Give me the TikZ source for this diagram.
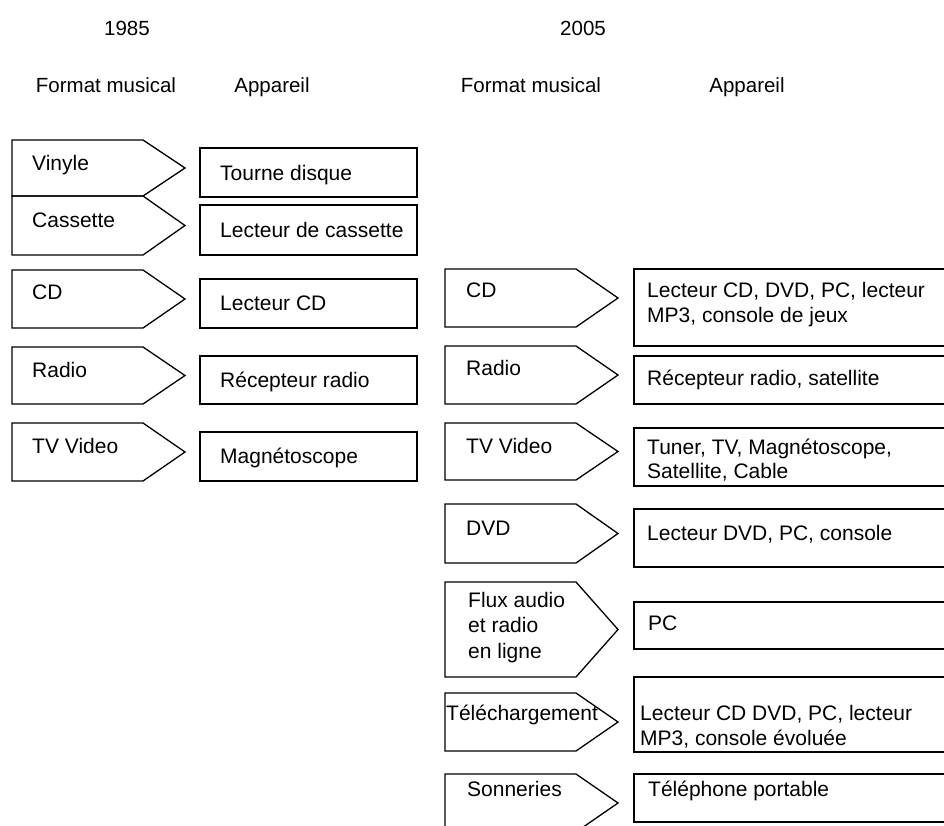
\documentclass[tikz,border=0pt]{standalone}
\usepackage{fontspec}
\setmainfont{Liberation Sans}
\begin{document}
\begin{tikzpicture}[x=1pt,y=-1pt,
  outline/.style={draw=black,line width=1.3pt,line join=miter},
  lbl/.style={inner sep=0pt,anchor=base west,align=left,
    font=\fontsize{21}{25}\selectfont},
  head/.style={inner sep=0pt,anchor=base,font=\fontsize{20.5}{24}\selectfont}]
\clip (0,0) rectangle (944,825);
\fill[white] (0,0) rectangle (944,825);

% format: pentagon pointing right, flat part 131 wide, point 42 deep
\newcommand\formatbox[3]{%
  \draw[outline] (#1,#2) -- (#1+131,#2) -- (#1+173,{(#2+#3)/2})
    -- (#1+131,#3) -- (#1,#3) -- cycle;}
% device: plain rectangle
\newcommand\devicebox[4]{%
  \draw[outline] (#1,#2) rectangle (#3,#4);}
% multi-line labels are placed by the baseline of their last line

% column headings
\node[head] (y85) at (127,35) {1985};
\node[head] (y05) at (583,35) {2005};
\node[head] (fm85) at (106,92) {Format musical};
\node[head] (ap85) at (272,92) {Appareil};
\node[head] (fm05) at (531,92) {Format musical};
\node[head] (ap05) at (747,92) {Appareil};

% ---- 1985 ----
\formatbox{12}{140}{196}
\devicebox{200}{148}{417}{197}
\node[lbl] (f1) at (32,170) {Vinyle};
\node[lbl] (d1) at (220,180) {Tourne disque};

\formatbox{12}{196}{255}
\devicebox{200}{205}{417}{255}
\node[lbl] (f2) at (32,227) {Cassette};
\node[lbl] (d2) at (220,237) {Lecteur de cassette};

\formatbox{12}{270}{328}
\devicebox{200}{279}{417}{328}
\node[lbl] (f3) at (32,299) {CD};
\node[lbl] (d3) at (220,310) {Lecteur CD};

\formatbox{12}{347}{404}
\devicebox{200}{356}{417}{404}
\node[lbl] (f4) at (32,377) {Radio};
\node[lbl] (d4) at (220,387) {Récepteur radio};

\formatbox{12}{423}{481}
\devicebox{200}{432}{417}{481}
\node[lbl] (f5) at (32,453) {TV Video};
\node[lbl] (d5) at (220,463) {Magnétoscope};

% ---- 2005 ----
\formatbox{445}{269}{327}
\devicebox{634}{269}{960}{346}
\node[lbl] (g1) at (466,297) {CD};
\node[lbl] (e1) at (647,322) {Lecteur CD, DVD, PC, lecteur\\MP3, console de jeux};

\formatbox{445}{346}{404}
\devicebox{634}{356}{960}{404}
\node[lbl] (g2) at (466,375) {Radio};
\node[lbl] (e2) at (647,385) {Récepteur radio, satellite};

\formatbox{445}{423}{480}
\devicebox{634}{428}{960}{486}
\node[lbl] (g3) at (466,453) {TV Video};
\node[lbl,font=\fontsize{21}{24}\selectfont] (e3) at (647,478) {Tuner, TV, Magnétoscope,\\Satellite, Cable};

\formatbox{445}{504}{563}
\devicebox{634}{509}{960}{567}
\node[lbl] (g4) at (466,535) {DVD};
\node[lbl] (e4) at (647,540) {Lecteur DVD, PC, console};

\formatbox{445}{582}{677}
\devicebox{634}{602}{960}{649}
\node[lbl,font=\fontsize{21}{25.5}\selectfont] (g5) at (468,658) {Flux audio\\et radio\\en ligne};
\node[lbl] (e5) at (648,630) {PC};

\formatbox{445}{693}{751}
\devicebox{634}{677}{960}{752}
\node[lbl] (g6) at (446,720) {Téléchargement};
\node[lbl] (e6) at (640,745) {Lecteur CD DVD, PC, lecteur\\MP3, console évoluée};

\formatbox{445}{774}{832}
\devicebox{634}{774}{960}{822}
\node[lbl] (g7) at (467,796) {Sonneries};
\node[lbl] (e7) at (648,796) {Téléphone portable};
\end{tikzpicture}
\end{document}
